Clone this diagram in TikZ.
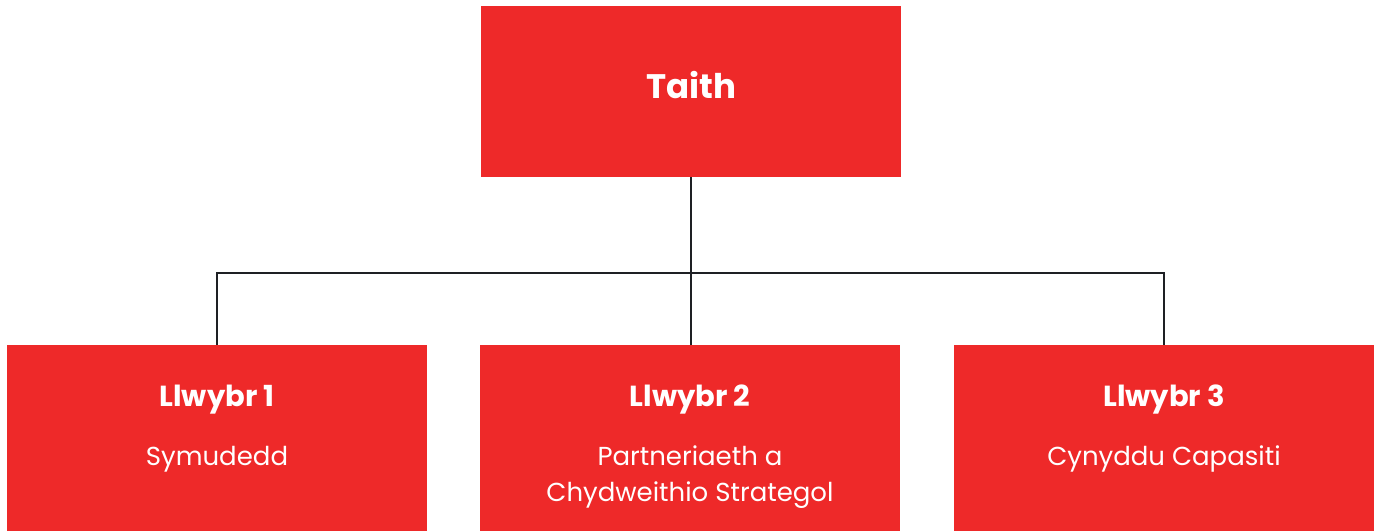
\documentclass[tikz,border=0pt]{standalone}
\usepackage{fontspec}
\setmainfont{Poppins}
\definecolor{boxred}{RGB}{238,41,41}
\definecolor{linegray}{RGB}{30,32,36}
\begin{document}
\begin{tikzpicture}[x=1pt,y=-1pt,
  redbox/.style={fill=boxred,draw=none,inner sep=0pt,minimum width=420pt},
  title/.style={text=white,font=\bfseries\fontsize{29}{34}\selectfont,anchor=base,inner sep=0pt},
  bigtitle/.style={text=white,font=\bfseries\fontsize{34}{40}\selectfont,anchor=base,inner sep=0pt},
  body/.style={text=white,font=\fontsize{26}{36}\selectfont,anchor=base,inner sep=0pt},
  conn/.style={draw=linegray,line width=2pt}]
\useasboundingbox (0,0) rectangle (1379,531);
\node[redbox,minimum height=171pt] (top) at (691,91.5) {};
\node[redbox,minimum height=186pt] (b1) at (217,438) {};
\node[redbox,minimum height=186pt] (b2) at (690,438) {};
\node[redbox,minimum height=186pt] (b3) at (1164,438) {};
\node[bigtitle] (t0) at (691,98) {Taith};
\node[title] (t1) at (217,406) {Llwybr 1};
\node[title] (t2) at (690,406) {Llwybr 2};
\node[title] (t3) at (1164,406) {Llwybr 3};
\node[body] (s1) at (217,465) {Symudedd};
\node[body] (s2a) at (690,465) {Partneriaeth a};
\node[body] (s2b) at (690,501) {Chydweithio Strategol};
\node[body] (s3) at (1164,465) {Cynyddu Capasiti};
\coordinate (j) at (691,273);
\draw[conn] (top.south) -- (j);
\draw[conn] (b1.north) |- (j) -| (b3.north);
\draw[conn] (j) -- (b2.north -| j);
\end{tikzpicture}
\end{document}
